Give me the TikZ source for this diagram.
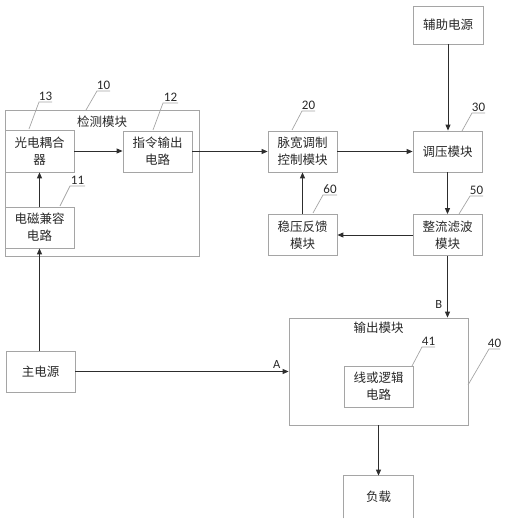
\documentclass[tikz,border=0pt]{standalone}
\usepackage{fontspec}
\setmainfont{Carlito}
\newfontfamily\cjk{Noto Sans CJK SC}
\usetikzlibrary{arrows.meta}
\definecolor{boxgray}{RGB}{165,165,165}
\definecolor{linec}{RGB}{45,45,45}
\definecolor{txt}{RGB}{40,40,40}
\begin{document}
\begin{tikzpicture}[x=1pt,y=-1pt,
 box/.style={draw=boxgray, line width=0.8pt, minimum width=69pt, minimum height=41pt, inner sep=0pt, align=center, font=\cjk\fontsize{12.5}{17}\selectfont, text=txt},
 title/.style={font=\cjk\fontsize{12.5}{17}\selectfont, text=txt, inner sep=0pt},
 conn/.style={draw=linec, line width=0.9pt, -{Triangle[length=6pt,width=5pt]}},
 lead/.style={draw=boxgray, line width=0.7pt},
 num/.style={font=\fontsize{13}{13}\selectfont, inner sep=1pt, anchor=south, text=txt},
 lab/.style={font=\fontsize{12.5}{12.5}\selectfont, text=txt, inner sep=1pt}
]
\useasboundingbox (0,0) rectangle (507,524);

\node[box, minimum width=194pt, minimum height=146pt] (n10) at (102,183) {};
\node[title] (t10) at (102,122) {检测模块};
\node[box, minimum height=42pt] (n13) at (39.5,151) {光电耦合\\器};
\node[box] (n11) at (39.5,227.5) {电磁兼容\\电路};
\node[box] (n12) at (157.5,151.5) {指令输出\\电路};
\node[box] (n20) at (302.5,151.5) {脉宽调制\\控制模块};
\node[box] (n30) at (447.5,151.5) {调压模块};
\node[box, minimum width=70pt, minimum height=38pt] (aux) at (448,25) {辅助电源};
\node[box] (n50) at (447.5,235) {整流滤波\\模块};
\node[box] (n60) at (302.5,235) {稳压反馈\\模块};
\node[box] (zhu) at (40.5,371.5) {主电源};
\node[box, minimum width=179pt, minimum height=107pt] (n40) at (378.5,371.5) {};
\node[title] (t40) at (378.5,328) {输出模块};
\node[box] (n41) at (378.5,386.5) {线或逻辑\\电路};
\node[box, draw=none, minimum height=42pt] (load) at (378.5,497) {负载};
\draw[draw=boxgray, line width=0.8pt] (load.south west) -- (load.north west) -- (load.north east) -- (load.south east);

\draw[conn] (n13.east) -- (n13.east -| n12.west);
\draw[conn] (n12.east) -- (n12.east -| n20.west);
\draw[conn] (n20.east) -- (n20.east -| n30.west);
\draw[conn] (aux.south) -- (aux.south |- n30.north);
\draw[conn] (n30.south) -- (n30.south |- n50.north);
\draw[conn] (n50.west) -- (n60.east);
\draw[conn] (n60.north) -- (n20.south);
\draw[conn] (n11.north) -- (n13.south);
\draw[conn] (n11.south |- zhu.north) -- (n11.south);
\draw[conn] (n50.south) -- (n50.south |- n40.north) node[lab, pos=0.79, left=4pt] {B};
\draw[conn] (zhu.east) -- (zhu.east -| n40.west) node[lab, pos=0.944, above=2pt] {A};
\draw[conn] (n40.south) -- (load.north);

\draw[lead] (29,129) -- (39,102) -- (52,102);
\node[num] at (45.5,102) {13};
\draw[lead] (86,110) -- (97,91) -- (110,91);
\node[num] at (103.5,91) {10};
\draw[lead] (153,130) -- (163,103) -- (178,103);
\node[num] at (170.5,103) {12};
\draw[lead] (60,206) -- (70,186) -- (85,186);
\node[num] at (77.5,186) {11};
\draw[lead] (292,130) -- (302,111) -- (315,111);
\node[num] at (308.5,111) {20};
\draw[lead] (462,131) -- (472,113) -- (485,113);
\node[num] at (478.5,113) {30};
\draw[lead] (313,213) -- (323,195) -- (337,195);
\node[num] at (330,195) {60};
\draw[lead] (459,214) -- (470,196) -- (483,196);
\node[num] at (476.5,196) {50};
\draw[lead] (412,366) -- (422,347) -- (435,347);
\node[num] at (428.5,347) {41};
\draw[lead] (468,385) -- (489,349) -- (500,349);
\node[num] at (494.5,349) {40};
\end{tikzpicture}
\end{document}
